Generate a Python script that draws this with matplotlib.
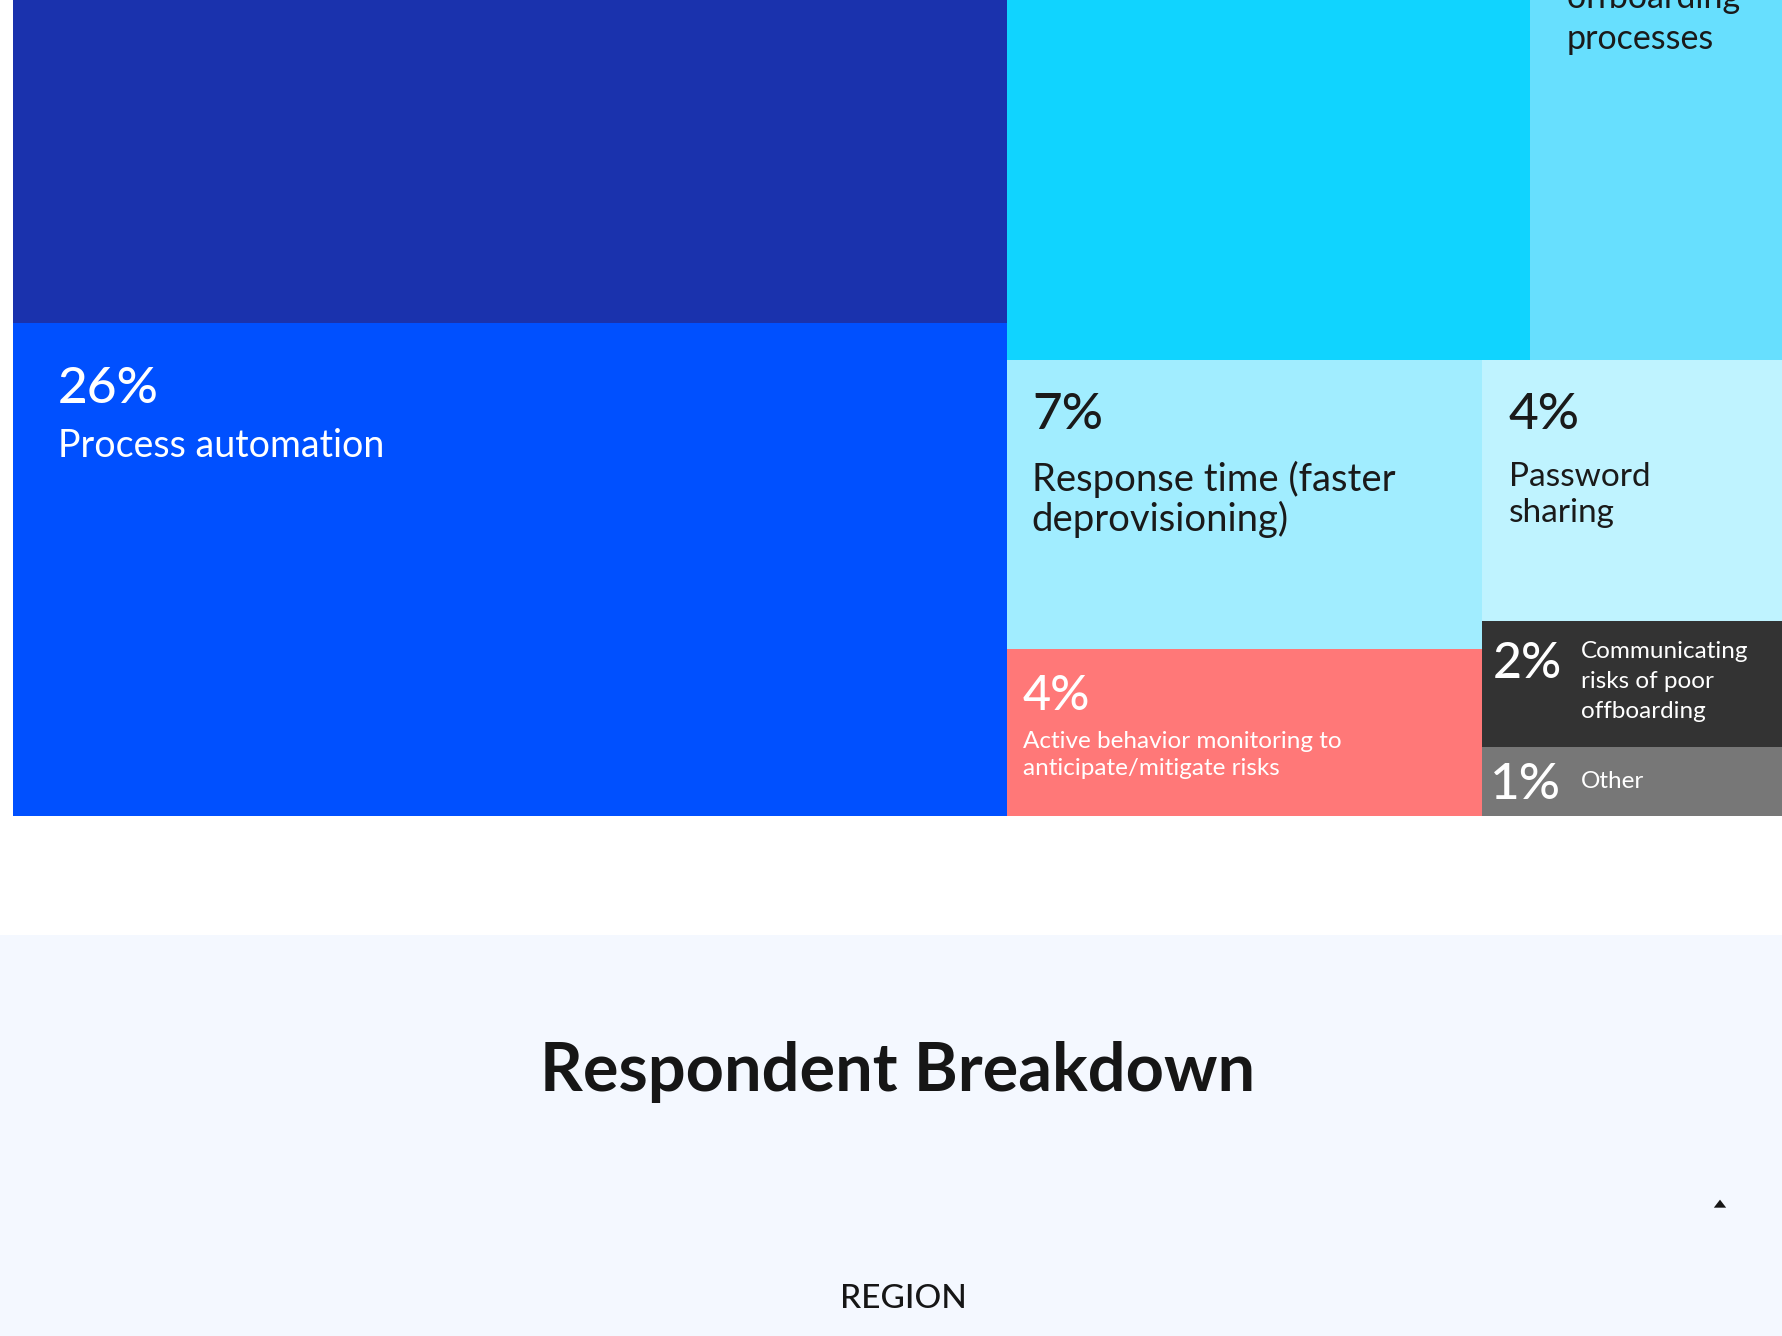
import matplotlib
matplotlib.use("Agg")
import matplotlib.pyplot as plt
from matplotlib.patches import Rectangle, RegularPolygon

plt.rcParams["font.family"] = ["Lato", "DejaVu Sans"]

# treemap blocks (share of respondents, %), the top of the chart is scrolled off
names = ["navy", "automation", "cyan", "offboarding", "response",
         "behavior", "password", "communicating", "other"]
shares = [30.0, 26.0, 16.8, 8.3, 7.3, 4.2, 4.25, 2.05, 1.12]
labels = ["", "Process automation", "", "offboarding\nprocesses",
          "Response time (faster\ndeprovisioning)",
          "Active behavior monitoring to\nanticipate/mitigate risks",
          "Password\nsharing", "Communicating\nrisks of poor\noffboarding", "Other"]
show_pct = [False, True, False, False, True, True, True, True, True]

title = "Respondent Breakdown"
subtitle = "REGION"

colors = ["#1A32AD", "#0050FF", "#10D4FF", "#67DFFE", "#A1EDFF",
          "#FF7878", "#BFF3FF", "#333333", "#777777"]
text_colors = ["white", "white", "#1a1a1a", "#1a1a1a", "#1a1a1a",
               "white", "#1a1a1a", "white", "white"]

# label styling: pct (dx, dy, size), label (dx, dy, size, line step) in pixels
pct_style = {1: (45, 80, 37), 4: (26, 69, 37), 5: (16, 61, 35),
             6: (27, 69, 37), 7: (11, 57, 36), 8: (8, 52, 37)}
lab_style = {1: (45, 134, 27, 40), 3: (37, -352, 24.5, 41), 4: (25, 131, 27.5, 40),
             5: (16, 99, 17.5, 27), 6: (27, 126, 24, 36), 7: (99, 37, 17.5, 30),
             8: (99, 41, 17.5, 30)}


def stack(x, y, w, h, vals, vertical):
    out = []
    tot = sum(vals)
    pos = 0.0
    for v in vals:
        f = v / tot
        if vertical:
            out.append((x, y + pos * h, w, f * h))
        else:
            out.append((x + pos * w, y, f * w, h))
        pos += f
    return out


# layout in unit square, y measured downward from the top
total = sum(shares)
left = shares[0] + shares[1]
lw = left / total
rects = stack(0, 0, lw, 1, shares[0:2], True)
top_sum = shares[2] + shares[3]
bot_sum = sum(shares[4:])
th = top_sum / (top_sum + bot_sum)
rects += stack(lw, 0, 1 - lw, th, shares[2:4], False)
cols = stack(lw, th, 1 - lw, 1 - th, [shares[4] + shares[5], sum(shares[6:])], False)
rects += stack(*cols[0], shares[4:6], True)
rects += stack(*cols[1], shares[6:], True)

fig = plt.figure(figsize=(17.82, 13.36), dpi=100)
fig.patch.set_facecolor("white")
fig.add_artist(Rectangle((0, 0), 1, (1336 - 935) / 1336, transform=fig.transFigure,
                         facecolor="#F4F8FF", edgecolor="none", zorder=0))

ax = fig.add_axes([12.5 / 1782, (1336 - 816) / 1336, 1776 / 1782, 1062 / 1336])
ax.set_xlim(0, 1)
ax.set_ylim(1, 0)
ax.axis("off")

for i, (x, y, w, h) in enumerate(rects):
    ax.add_patch(Rectangle((x, y), w, h, facecolor=colors[i], edgecolor="none"))
    if show_pct[i]:
        dx, dy, fs = pct_style[i]
        ax.annotate(f"{shares[i]:.0f}%", xy=(x, y), xytext=(dx, -dy),
                    textcoords="offset pixels", ha="left", va="baseline",
                    fontsize=fs, color=text_colors[i], fontweight="medium")
    if labels[i]:
        dx, dy, fs, step = lab_style[i]
        anchor_y = y if dy >= 0 else y + h
        for k, line in enumerate(labels[i].split("\n")):
            ax.annotate(line, xy=(x, anchor_y), xytext=(dx, -(dy + k * step)),
                        textcoords="offset pixels", ha="left", va="baseline",
                        fontsize=fs, color=text_colors[i])

fig.text(898 / 1782, (1336 - 1091) / 1336, title, ha="center", va="baseline",
         fontsize=48, fontweight="bold", color="#161616")
fig.text(903 / 1782, (1336 - 1308) / 1336, subtitle, ha="center", va="baseline",
         fontsize=24, fontweight="medium", color="#161616")
fig.add_artist(RegularPolygon((1720 / 1782, (1336 - 1205) / 1336), 3, radius=0.004,
                              transform=fig.transFigure, facecolor="#161616",
                              edgecolor="none"))

fig.savefig("out.png", dpi=100)
